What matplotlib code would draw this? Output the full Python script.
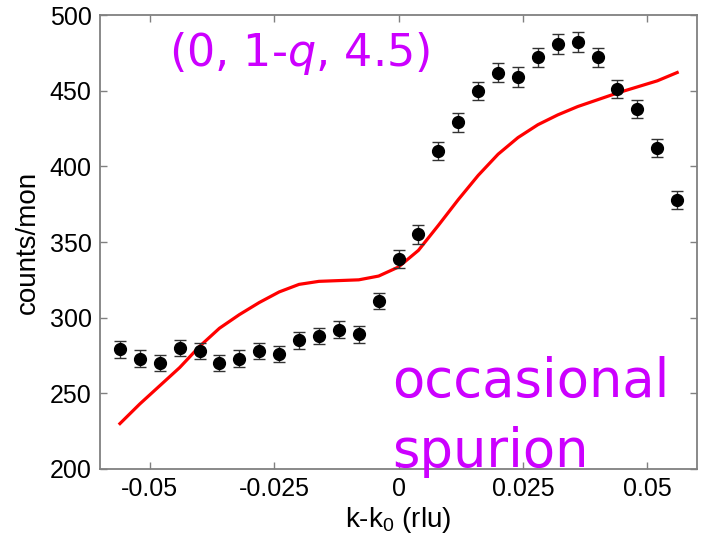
import numpy as np
import matplotlib
matplotlib.use('Agg')
import matplotlib.pyplot as plt

# measured points
k = [-0.056, -0.052, -0.048, -0.044, -0.040, -0.036, -0.032, -0.028, -0.024, -0.020,
     -0.016, -0.012, -0.008, -0.004, 0.000, 0.004, 0.008, 0.012, 0.016, 0.020,
     0.024, 0.028, 0.032, 0.036, 0.040, 0.044, 0.048, 0.052, 0.056]
counts = [279, 273, 270, 280, 278, 270, 273, 278, 276, 285,
          288, 292, 289, 311, 339, 355, 410, 429, 450, 462,
          459, 472, 481, 482, 472, 451, 438, 412, 378]
err = [5.5, 5.5, 5.5, 5.5, 5.5, 5.5, 5.5, 5.5, 5.5, 5.5,
       5.5, 5.5, 5.5, 5.5, 6, 6, 6, 6, 6, 6.5,
       6.5, 6.5, 6.5, 6.5, 6.5, 6, 6, 6, 6]

# model curve
model = [230, 243, 255, 267, 281, 293, 302, 310, 317, 322,
         324, 324.5, 325, 327.5, 333.5, 344.5, 361, 378, 394, 408,
         419, 427.5, 434, 439.5, 444, 448.5, 452.5, 456.5, 462]

plt.rcParams['font.family'] = ['Liberation Sans', 'DejaVu Sans']
plt.rcParams['mathtext.fontset'] = 'custom'
plt.rcParams['mathtext.rm'] = 'Liberation Sans'

fig = plt.figure(figsize=(7.02, 5.42), dpi=100)
ax = fig.add_axes([0.1425, 0.1347, 0.8505, 0.8376])

ax.errorbar(k, counts, yerr=err, fmt='o', color='k', ms=8.5, ecolor='#333333',
            elinewidth=1, capsize=4.5, capthick=1, zorder=3)
ax.plot(k, model, color='red', lw=2.3, zorder=2)

ax.set_xlim(-0.06, 0.06)
ax.set_ylim(200, 500)
ax.set_xticks([-0.05, -0.025, 0, 0.025, 0.05])
ax.set_xticklabels(['-0.05', '-0.025', '0', '0.025', '0.05'])
ax.set_yticks([200, 250, 300, 350, 400, 450, 500])
ax.tick_params(direction='in', top=True, right=True, length=5, width=1,
               color='#808080', labelsize=18, pad=6)
for s in ax.spines.values():
    s.set_color('#808080')
    s.set_linewidth(1.3)

ax.set_xlabel(r'k-k$_\mathrm{0}$ (rlu)', fontsize=20, labelpad=3)
ax.set_ylabel('counts/mon', fontsize=20, labelpad=6)

mag = '#CC00FF'
ax.text(0.335, 0.915, r'(0, 1-$\it{q}$, 4.5)', transform=ax.transAxes, color=mag,
        fontsize=32, family='DejaVu Sans', ha='center', va='center')
ax.text(0.49, 0.159, 'occasional', transform=ax.transAxes, color=mag,
        fontsize=38, family='DejaVu Sans', ha='left', va='baseline')
ax.text(0.49, 0.004, 'spurion', transform=ax.transAxes, color=mag,
        fontsize=38, family='DejaVu Sans', ha='left', va='baseline', clip_on=False)

fig.savefig('out.png', dpi=100)
